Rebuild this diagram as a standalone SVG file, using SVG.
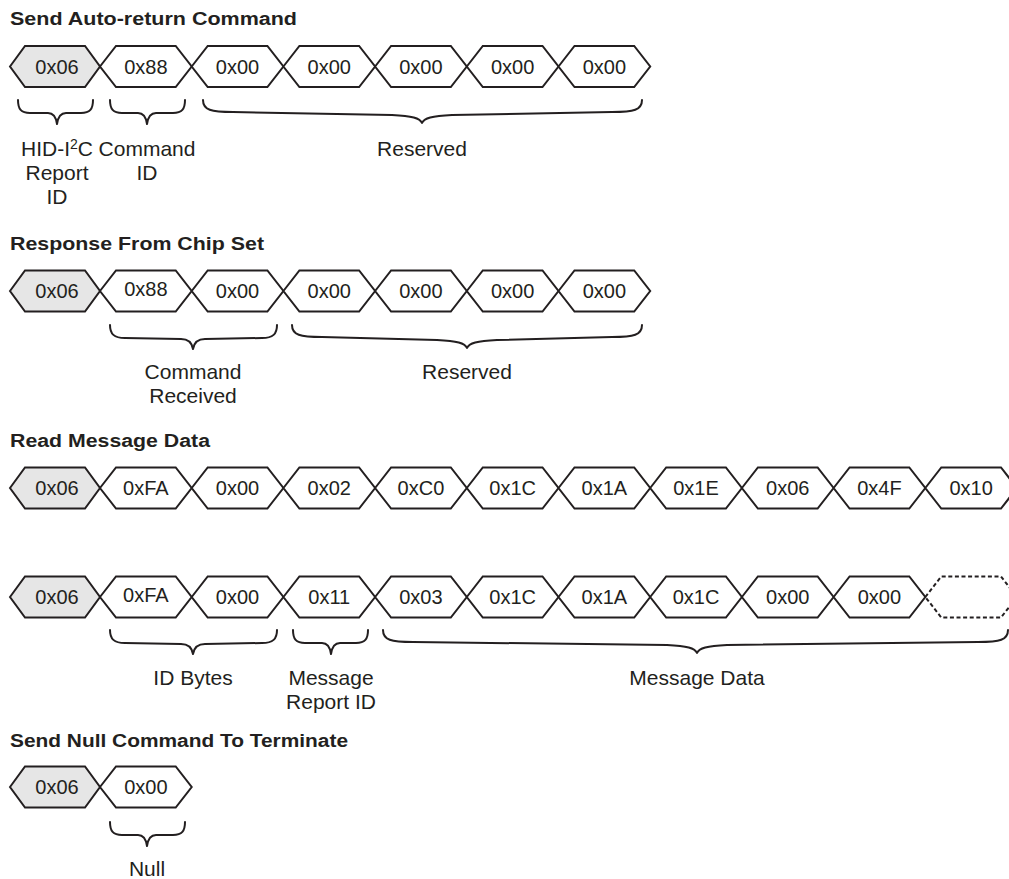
<svg xmlns="http://www.w3.org/2000/svg" width="1009" height="879" viewBox="0 0 1009 879">
<style>
  .bg{fill:#ffffff}
  .hx{fill:#ffffff;stroke:#231f20;stroke-width:2;stroke-linejoin:miter}
  .first{fill:#e6e6e6}
  .dash{fill:none;stroke-dasharray:4 2.6}
  .val{font-family:"Liberation Sans",Arial,sans-serif;font-size:20px;fill:#231f20;text-anchor:middle}
  .lbl{font-family:"Liberation Sans",Arial,sans-serif;font-size:21px;fill:#231f20;text-anchor:middle}
  .ttl{font-family:"Liberation Sans",Arial,sans-serif;font-size:18px;font-weight:bold;fill:#231f20}
  .brace{fill:none;stroke:#231f20;stroke-width:2;stroke-linecap:round;stroke-linejoin:round}
</style>
<defs>
  <path id="hx" d="M0,0 L16,-20.5 L75.7,-20.5 L91.7,0 L75.7,20.5 L16,20.5 Z"/>
  <path id="hx0" d="M0,0 L15,-20.5 L75,-20.5 L90,0 L75,20.5 L15,20.5 Z"/>
</defs>
<rect class="bg" x="0" y="0" width="1009" height="879"/>

<!-- Section 1 -->
<text id="title1" class="ttl" x="10" y="25" textLength="287" lengthAdjust="spacingAndGlyphs">Send Auto-return Command</text>
<g id="r1n0"><use href="#hx0" class="hx first" x="10" y="66.5"/><text class="val" x="57" y="73.5">0x06</text></g>
<g id="r1n1"><use href="#hx" class="hx" x="100" y="66.5"/><text class="val" x="145.85" y="73.5">0x88</text></g>
<g id="r1n2"><use href="#hx" class="hx" x="191.7" y="66.5"/><text class="val" x="237.55" y="73.5">0x00</text></g>
<g id="r1n3"><use href="#hx" class="hx" x="283.4" y="66.5"/><text class="val" x="329.25" y="73.5">0x00</text></g>
<g id="r1n4"><use href="#hx" class="hx" x="375.1" y="66.5"/><text class="val" x="420.95" y="73.5">0x00</text></g>
<g id="r1n5"><use href="#hx" class="hx" x="466.8" y="66.5"/><text class="val" x="512.65" y="73.5">0x00</text></g>
<g id="r1n6"><use href="#hx" class="hx" x="558.5" y="66.5"/><text class="val" x="604.35" y="73.5">0x00</text></g>

<!-- Section 2 -->
<text id="title2" class="ttl" x="10" y="250" textLength="254" lengthAdjust="spacingAndGlyphs">Response From Chip Set</text>
<g id="r2n0"><use href="#hx0" class="hx first" x="10" y="291"/><text class="val" x="57" y="298">0x06</text></g>
<g id="r2n1"><use href="#hx" class="hx" x="100" y="291"/><text class="val" x="145.85" y="296">0x88</text></g>
<g id="r2n2"><use href="#hx" class="hx" x="191.7" y="291"/><text class="val" x="237.55" y="298">0x00</text></g>
<g id="r2n3"><use href="#hx" class="hx" x="283.4" y="291"/><text class="val" x="329.25" y="298">0x00</text></g>
<g id="r2n4"><use href="#hx" class="hx" x="375.1" y="291"/><text class="val" x="420.95" y="298">0x00</text></g>
<g id="r2n5"><use href="#hx" class="hx" x="466.8" y="291"/><text class="val" x="512.65" y="298">0x00</text></g>
<g id="r2n6"><use href="#hx" class="hx" x="558.5" y="291"/><text class="val" x="604.35" y="298">0x00</text></g>

<!-- Section 3 -->
<text id="title3" class="ttl" x="10" y="447" textLength="200" lengthAdjust="spacingAndGlyphs">Read Message Data</text>
<g id="r3n0"><use href="#hx0" class="hx first" x="10" y="488"/><text class="val" x="57" y="495">0x06</text></g>
<g id="r3n1"><use href="#hx" class="hx" x="100" y="488"/><text class="val" x="145.85" y="495">0xFA</text></g>
<g id="r3n2"><use href="#hx" class="hx" x="191.7" y="488"/><text class="val" x="237.55" y="495">0x00</text></g>
<g id="r3n3"><use href="#hx" class="hx" x="283.4" y="488"/><text class="val" x="329.25" y="495">0x02</text></g>
<g id="r3n4"><use href="#hx" class="hx" x="375.1" y="488"/><text class="val" x="420.95" y="495">0xC0</text></g>
<g id="r3n5"><use href="#hx" class="hx" x="466.8" y="488"/><text class="val" x="512.65" y="495">0x1C</text></g>
<g id="r3n6"><use href="#hx" class="hx" x="558.5" y="488"/><text class="val" x="604.35" y="495">0x1A</text></g>
<g id="r3n7"><use href="#hx" class="hx" x="650.2" y="488"/><text class="val" x="696.05" y="495">0x1E</text></g>
<g id="r3n8"><use href="#hx" class="hx" x="741.9" y="488"/><text class="val" x="787.75" y="495">0x06</text></g>
<g id="r3n9"><use href="#hx" class="hx" x="833.6" y="488"/><text class="val" x="879.45" y="495">0x4F</text></g>
<g id="r3n10"><use href="#hx" class="hx" x="925.3" y="488"/><text class="val" x="971.15" y="495">0x10</text></g>

<!-- Section 4 -->
<g id="r4n0"><use href="#hx0" class="hx first" x="10" y="597"/><text class="val" x="57" y="604">0x06</text></g>
<g id="r4n1"><use href="#hx" class="hx" x="100" y="597"/><text class="val" x="145.85" y="602">0xFA</text></g>
<g id="r4n2"><use href="#hx" class="hx" x="191.7" y="597"/><text class="val" x="237.55" y="604">0x00</text></g>
<g id="r4n3"><use href="#hx" class="hx" x="283.4" y="597"/><text class="val" x="329.25" y="604">0x11</text></g>
<g id="r4n4"><use href="#hx" class="hx" x="375.1" y="597"/><text class="val" x="420.95" y="604">0x03</text></g>
<g id="r4n5"><use href="#hx" class="hx" x="466.8" y="597"/><text class="val" x="512.65" y="604">0x1C</text></g>
<g id="r4n6"><use href="#hx" class="hx" x="558.5" y="597"/><text class="val" x="604.35" y="604">0x1A</text></g>
<g id="r4n7"><use href="#hx" class="hx" x="650.2" y="597"/><text class="val" x="696.05" y="604">0x1C</text></g>
<g id="r4n8"><use href="#hx" class="hx" x="741.9" y="597"/><text class="val" x="787.75" y="604">0x00</text></g>
<g id="r4n9"><use href="#hx" class="hx" x="833.6" y="597"/><text class="val" x="879.45" y="604">0x00</text></g>
<g id="r4n10"><use href="#hx" class="hx dash" x="925.3" y="597"/></g>

<!-- Section 5 -->
<text id="title5" class="ttl" x="10" y="747" textLength="338" lengthAdjust="spacingAndGlyphs">Send Null Command To Terminate</text>
<g id="r5n0"><use href="#hx0" class="hx first" x="10" y="787"/><text class="val" x="57" y="794">0x06</text></g>
<g id="r5n1"><use href="#hx" class="hx" x="100" y="787"/><text class="val" x="145.85" y="794">0x00</text></g>

<!-- Braces -->
<g id="braces">
  <path class="brace" d="M18,100 C18,109 21,113 30,113 L48,113 C53,113 56,117 57,124 C58,117 61,113 66,113 L81,113 C90,113 93,109 93,100"/>
  <path class="brace" d="M110,100 C110,109 113,113 122,113 L138,113 C143,113 146,117 147,124 C148,117 151,113 156,113 L173,113 C182,113 185,109 185,100"/>
  <path class="brace" d="M203,100 C203,110 211,112 233,112 L392,115 C412,116 420,118 422,123 C424,118 432,116 452,115 L612,112 C634,112 642,110 642,100"/>
  <path class="brace" d="M110,325 C110,334 114,338 125,338 L181,339 C188,339 192,343 193,349 C194,343 198,339 205,339 L262,338 C273,338 277,334 277,325"/>
  <path class="brace" d="M292,325 C292,335 300,337 322,337 L437,340 C457,341 465,343 467,348 C469,343 477,341 497,340 L612,337 C634,337 642,335 642,325"/>
  <path class="brace" d="M110,630 C110,639 114,643 125,643 L181,644 C188,644 192,648 193,654 C194,648 198,644 205,644 L262,643 C273,643 277,639 277,630"/>
  <path class="brace" d="M293,630 C293,639 296,643 305,643 L322,643 C327,643 330,647 331,654 C332,647 335,643 340,643 L356,643 C365,643 368,639 368,630"/>
  <path class="brace" d="M383,630 C383,640 391,642 413,642 L667,645 C687,646 695,648 697,653 C699,648 707,646 727,645 L978,642 C1000,642 1008,640 1008,630"/>
  <path class="brace" d="M110,822 C110,831 113,835 122,835 L138,835 C143,835 146,839 147,846 C148,839 151,835 156,835 L173,835 C182,835 185,831 185,822"/>
</g>

<!-- Labels -->
<g id="labels">
  <text class="lbl" x="57" y="156">HID-I<tspan font-size="14" dy="-7">2</tspan><tspan dy="7">C</tspan></text>
  <text class="lbl" x="57" y="180">Report</text>
  <text class="lbl" x="57" y="203.5">ID</text>
  <text class="lbl" x="147" y="156">Command</text>
  <text class="lbl" x="147" y="180">ID</text>
  <text class="lbl" x="422" y="156">Reserved</text>
  <text class="lbl" x="193" y="379">Command</text>
  <text class="lbl" x="193" y="403">Received</text>
  <text class="lbl" x="467" y="379">Reserved</text>
  <text class="lbl" x="193" y="685">ID Bytes</text>
  <text class="lbl" x="331" y="685">Message</text>
  <text class="lbl" x="331" y="709">Report ID</text>
  <text class="lbl" x="697" y="685">Message Data</text>
  <text class="lbl" x="147" y="876">Null</text>
</g>
</svg>
